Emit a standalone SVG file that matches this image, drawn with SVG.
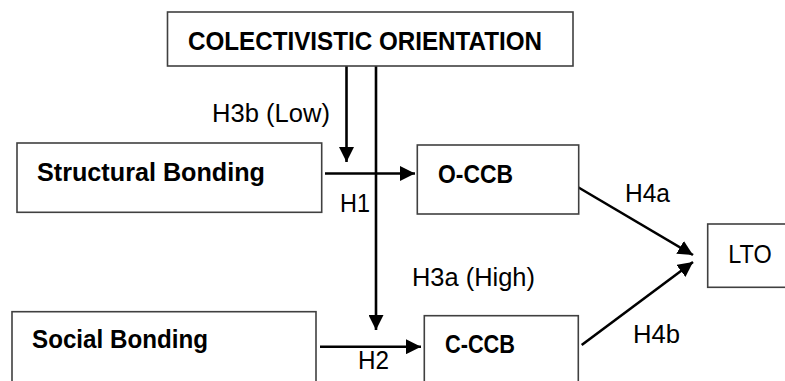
<svg xmlns="http://www.w3.org/2000/svg" width="785" height="381" viewBox="0 0 785 381">
<style>
.box{fill:#fff;stroke:#404040;stroke-width:1.6}
.t{font-family:"Liberation Sans",Arial,sans-serif;font-size:26px;fill:#000}
.b{font-weight:bold}
.c{stroke:#000;stroke-width:2.6;fill:none;marker-end:url(#ah)}
</style>
<defs>
<marker id="ah" markerUnits="userSpaceOnUse" markerWidth="15" markerHeight="15" viewBox="0 0 15 15" refX="15" refY="7.5" orient="auto">
<path d="M0,0 L15,7.5 L0,15 z" fill="#000"/>
</marker>
</defs>
<rect width="785" height="381" fill="#fff"/>
<g id="connectors">
<line class="c" x1="346.5" y1="66" x2="346.5" y2="162"/>
<line class="c" x1="376" y1="66" x2="376" y2="330"/>
<line class="c" x1="325" y1="173.5" x2="415" y2="173.5"/>
<line class="c" x1="320" y1="346.7" x2="421" y2="346.7"/>
<line class="c" x1="576" y1="186" x2="693" y2="255"/>
<line class="c" x1="581.7" y1="345" x2="693" y2="262"/>
<text class="t" x="212" y="122" textLength="118" lengthAdjust="spacingAndGlyphs">H3b (Low)</text>
<text class="t" x="340" y="212" textLength="30" lengthAdjust="spacingAndGlyphs">H1</text>
<text class="t" x="625" y="202" textLength="45" lengthAdjust="spacingAndGlyphs">H4a</text>
<text class="t" x="412" y="286" textLength="123" lengthAdjust="spacingAndGlyphs">H3a (High)</text>
<text class="t" x="633" y="343" textLength="47" lengthAdjust="spacingAndGlyphs">H4b</text>
<text class="t" x="358" y="369" textLength="31" lengthAdjust="spacingAndGlyphs">H2</text>
</g>
<g id="collectivistic">
<rect class="box" x="167.5" y="12" width="405.5" height="54"/>
<text class="t b" x="188" y="50" textLength="354" lengthAdjust="spacingAndGlyphs">COLECTIVISTIC ORIENTATION</text>
</g>
<g id="structural">
<rect class="box" x="17" y="143" width="304.7" height="69.3"/>
<text class="t b" x="37" y="180.5" textLength="228" lengthAdjust="spacingAndGlyphs">Structural Bonding</text>
</g>
<g id="occb">
<rect class="box" x="417.3" y="145" width="161.4" height="69"/>
<text class="t b" x="438" y="183" textLength="75" lengthAdjust="spacingAndGlyphs">O-CCB</text>
</g>
<g id="lto">
<rect class="box" x="707.7" y="224" width="90" height="63.3"/>
<text class="t" x="728.3" y="263" textLength="43.4" lengthAdjust="spacingAndGlyphs">LTO</text>
</g>
<g id="social">
<rect class="box" x="12" y="311.7" width="304" height="80"/>
<text class="t b" x="32" y="348" textLength="176" lengthAdjust="spacingAndGlyphs">Social Bonding</text>
</g>
<g id="cccb">
<rect class="box" x="424.3" y="315.7" width="154" height="80"/>
<text class="t b" x="445" y="353.3" textLength="70" lengthAdjust="spacingAndGlyphs">C-CCB</text>
</g>
</svg>
